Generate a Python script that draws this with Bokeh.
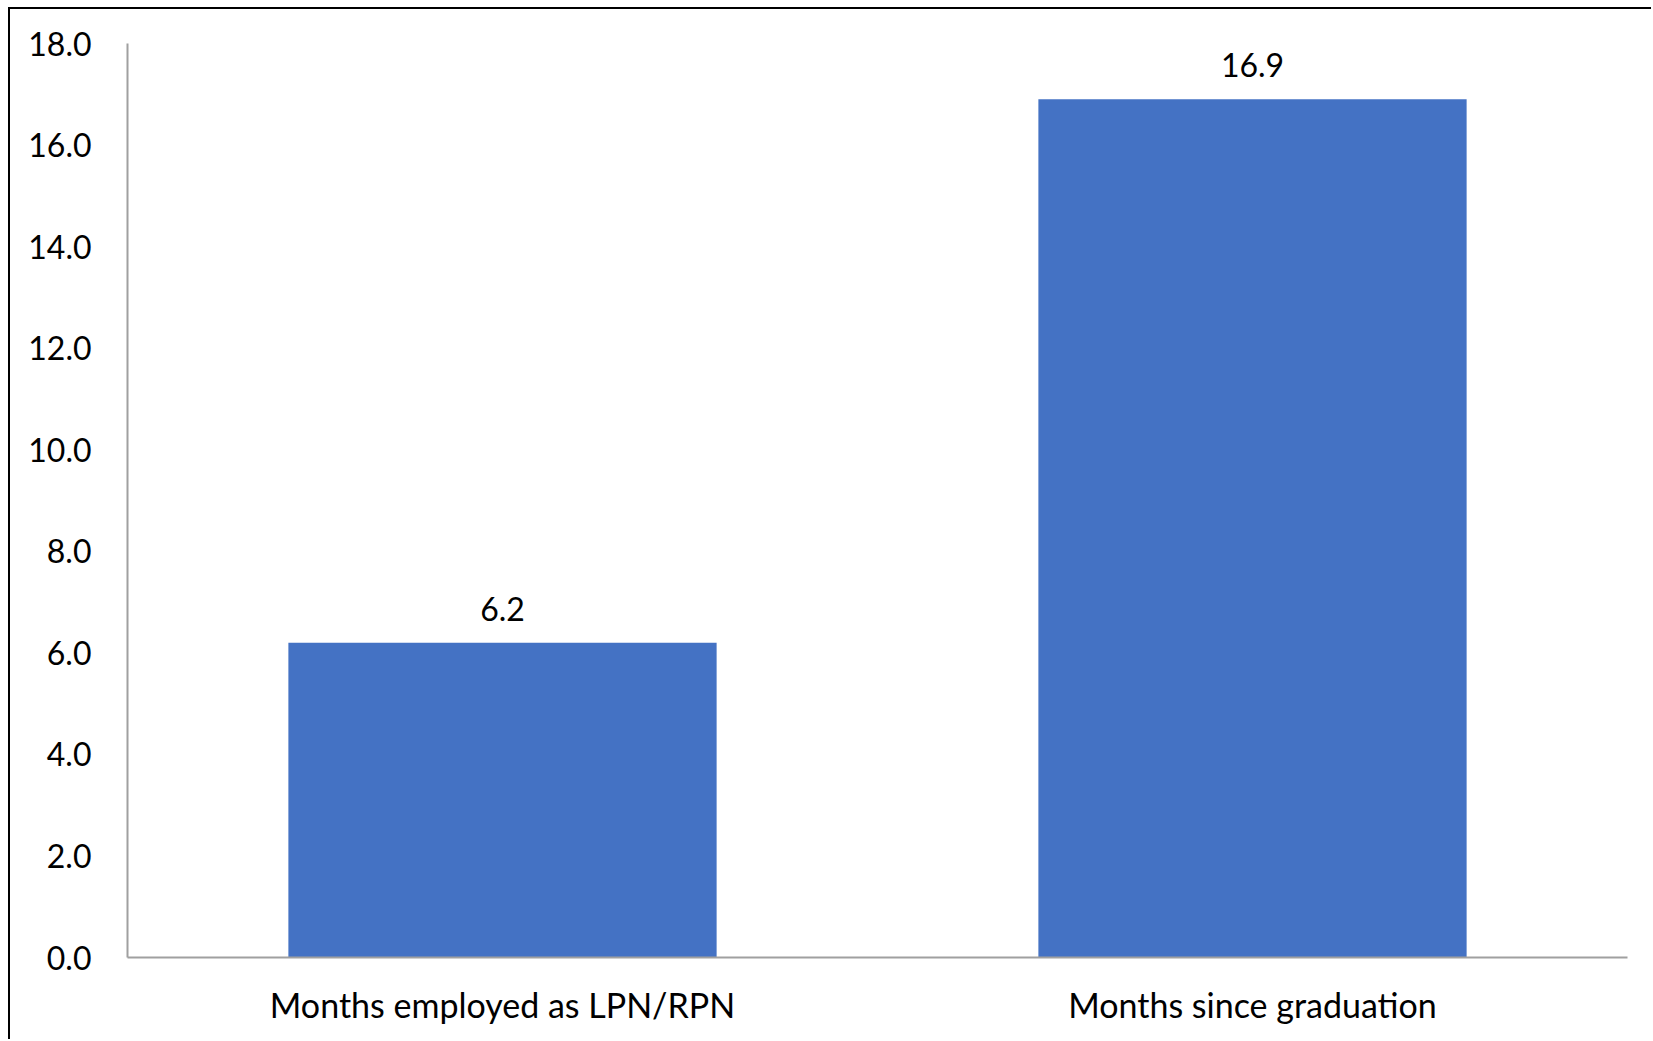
from bokeh.plotting import figure
from bokeh.models import ColumnDataSource, LabelSet, NumeralTickFormatter, SingleIntervalTicker, Range1d, FactorRange
from bokeh.core.properties import value
from bokeh.embed import file_html
from bokeh.resources import INLINE

categories = ["Months employed as LPN/RPN", "Months since graduation"]
values = [6.2, 16.9]
value_labels = ["6.2", "16.9"]

src = ColumnDataSource(dict(cat=categories, val=values, lab=value_labels))

FONT = "Lato"

p = figure(x_range=FactorRange(*categories, range_padding=0), y_range=Range1d(0, 18),
           width=1643, height=1032, output_backend="svg", toolbar_location=None,
           min_border_left=117, min_border_right=26, min_border_top=34, min_border_bottom=84)
p.styles = {"margin-left": "8px", "margin-top": "7px",
            "border-left": "2px solid black", "border-top": "2px solid black"}

p.vbar(x="cat", top="val", width=0.571, source=src, color="#4472C4", line_color=None)

labels = LabelSet(x="cat", y="val", text="lab", source=src, y_offset=22,
                  text_align="center", text_baseline="alphabetic",
                  text_font=value(FONT), text_font_size=value("32px"), text_color="black")
p.add_layout(labels)

p.xgrid.visible = False
p.ygrid.visible = False
p.outline_line_color = None

p.yaxis.ticker = SingleIntervalTicker(interval=2)
p.yaxis.formatter = NumeralTickFormatter(format="0.0")

for ax in (p.xaxis, p.yaxis):
    ax.axis_line_color = "#a0a0a0"
    ax.axis_line_width = 2
    ax.major_tick_line_color = None
    ax.minor_tick_line_color = None
    ax.major_label_text_font = FONT
    ax.major_label_text_color = "black"

p.yaxis.major_label_text_font_size = "32px"
p.xaxis.major_label_text_font_size = "34px"
p.yaxis.major_label_standoff = 30
p.xaxis.major_label_standoff = 20

open("out.html", "w").write(file_html(p, INLINE))
